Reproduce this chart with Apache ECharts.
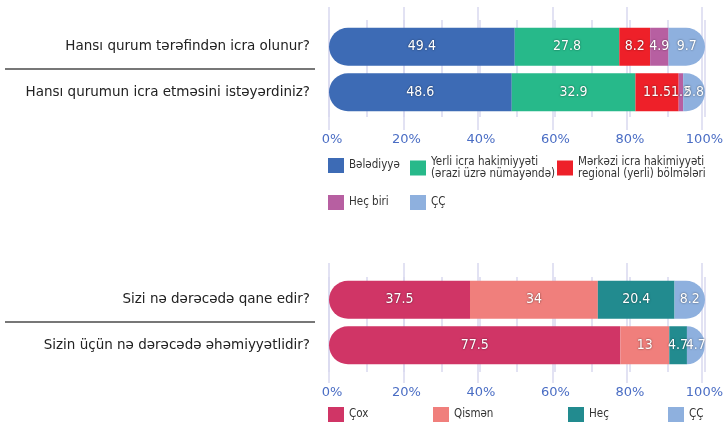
<!DOCTYPE html>
<html lang="az">
<head>
    <meta charset="UTF-8">
    <title>Sorğu nəticələri</title>
    <script type="text/javascript" src="https://cdn.jsdelivr.net/npm/echarts@6/dist/echarts.min.js"></script>
    <style type="text/css">
        html,body{margin:0;padding:0;background:#fff;}
        #main{width:726px;height:427px;}
    </style>
</head>
<body>
<div id="main"></div>
<script type="text/javascript">
    // yuxarı qrafik
    var topCats = ['Hansı qurum tərəfindən icra olunur?', 'Hansı qurumun icra etməsini istəyərdiniz?'];
    var topNames = ['Bələdiyyə', 'Yerli icra hakimiyyəti (ərazi üzrə nümayəndə)', 'Mərkəzi icra hakimiyyəti regional (yerli) bölmələri', 'Heç biri', 'ÇÇ'];
    var beledIyye = [49.4, 48.6];
    var yerli = [27.8, 32.9];
    var merkezi = [8.2, 11.5];
    var hecBiri = [4.9, 1.2];
    var ccTop = [9.7, 5.8];
    // aşağı qrafik
    var botCats = ['Sizi nə dərəcədə qane edir?', 'Sizin üçün nə dərəcədə əhəmiyyətlidir?'];
    var botNames = ['Çox', 'Qismən', 'Heç', 'ÇÇ'];
    var cox = [37.5, 77.5];
    var qismen = [34, 13];
    var hec = [20.4, 4.7];
    var ccBot = [8.2, 4.7];
    // ox işarələri
    var tickLabels = ['0%', '20%', '40%', '60%', '80%', '100%'];

    var topData = [beledIyye, yerli, merkezi, hecBiri, ccTop];
    var botData = [cox, qismen, hec, ccBot];
    var topColors = ['#3d6bb5', '#27b98a', '#ee2029', '#b75fa1', '#8eb0de'];
    var botColors = ['#d03566', '#f07f7c', '#228b8f', '#8eb0de'];
    var wrapped = {
        'Yerli icra hakimiyyəti (ərazi üzrə nümayəndə)': 'Yerli icra hakimiyyəti\n(ərazi üzrə nümayəndə)',
        'Mərkəzi icra hakimiyyəti regional (yerli) bölmələri': 'Mərkəzi icra hakimiyyəti\nregional (yerli) bölmələri'
    };

    var FONT = '"DejaVu Sans", sans-serif';
    var FONT_NARROW = '"DejaVu Sans Condensed", "DejaVu Sans", sans-serif';
    var gridLine = '#d9d9ef';
    var L = 329, R = 21;

    var myChart = echarts.init(document.getElementById('main'));

    function barAxisX(idx) {
        return {gridIndex: idx, type: 'value', min: 0, max: 100, show: false, splitLine: {show: false}};
    }
    function decoAxisX(idx, interval, withLabel) {
        return {
            gridIndex: idx, type: 'value', min: 0, max: 100, interval: interval,
            axisLine: {show: false}, axisTick: {show: false},
            axisLabel: {
                show: withLabel, margin: 3, color: '#4a6dc4', fontSize: 13, fontFamily: FONT,
                padding: [0, 0, 0, 6],
                formatter: function (v) { return tickLabels[v / 20]; }
            },
            splitLine: {show: true, lineStyle: {color: gridLine, width: 1.5}}
        };
    }
    function hiddenY(idx) {
        return {gridIndex: idx, type: 'value', show: false};
    }
    function catY(idx, cats) {
        return {
            gridIndex: idx, type: 'category', data: cats, inverse: true,
            axisLine: {show: false}, axisTick: {show: false},
            axisLabel: {margin: 19, color: '#222', fontSize: 13.5, fontFamily: FONT}
        };
    }
    function makeSeries(names, data, colors, axisIdx) {
        var last = names.length - 1;
        return names.map(function (n, i) {
            var r = 0;
            if (i === 0) r = [19, 0, 0, 19];
            if (i === last) r = [0, 19, 19, 0];
            return {
                name: n, type: 'bar', stack: 'st' + axisIdx,
                xAxisIndex: axisIdx, yAxisIndex: axisIdx,
                barWidth: 38, z: 5,
                itemStyle: {color: colors[i], borderRadius: r},
                label: {
                    show: true, position: 'inside', color: '#fff', fontSize: 14, fontFamily: FONT_NARROW,
                    textBorderWidth: 0, textShadowColor: 'rgba(0,0,0,0.6)', textShadowBlur: 2
                },
                data: data[i]
            };
        });
    }
    function oneLegend(name, left, top) {
        return {
            data: [name], left: left, top: top, orient: 'horizontal', padding: 0,
            itemWidth: 16, itemHeight: 15, itemGap: 0, selectedMode: false,
            icon: 'rect',
            textStyle: {color: '#333', fontSize: 11.5, fontFamily: FONT_NARROW, lineHeight: 12},
            formatter: function (n) { return wrapped[n] || n; }
        };
    }

    var option = {
        animation: false,
        grid: [
            {left: L, right: R, top: 24, height: 91},   // 0 top bars
            {left: L, right: R, top: 7, height: 123},   // 1 top major lines
            {left: L, right: R, top: 20, height: 97},   // 2 top minor lines
            {left: L, right: R, top: 277, height: 91},  // 3 bottom bars
            {left: L, right: R, top: 263, height: 120}, // 4 bottom major lines
            {left: L, right: R, top: 277, height: 95}   // 5 bottom minor lines
        ],
        xAxis: [
            barAxisX(0), decoAxisX(1, 20, true), decoAxisX(2, 10, false),
            barAxisX(3), decoAxisX(4, 20, true), decoAxisX(5, 10, false)
        ],
        yAxis: [
            catY(0, topCats), hiddenY(1), hiddenY(2),
            catY(3, botCats), hiddenY(4), hiddenY(5)
        ],
        legend: [
            oneLegend(topNames[0], 328, 158),
            oneLegend(topNames[1], 410, 156),
            oneLegend(topNames[2], 557, 156),
            oneLegend(topNames[3], 328, 195),
            oneLegend(topNames[4], 410, 195),
            oneLegend(botNames[0], 328, 407),
            oneLegend(botNames[1], 433, 407),
            oneLegend(botNames[2], 568, 407),
            oneLegend(botNames[3], 668, 407)
        ],
        graphic: [
            {type: 'line', shape: {x1: 5, y1: 69, x2: 315, y2: 69}, style: {stroke: '#777', lineWidth: 2}},
            {type: 'line', shape: {x1: 5, y1: 322, x2: 315, y2: 322}, style: {stroke: '#777', lineWidth: 2}}
        ],
        series: makeSeries(topNames, topData, topColors, 0).concat(makeSeries(botNames, botData, botColors, 3))
    };
    myChart.setOption(option);
</script>
</body>
</html>
